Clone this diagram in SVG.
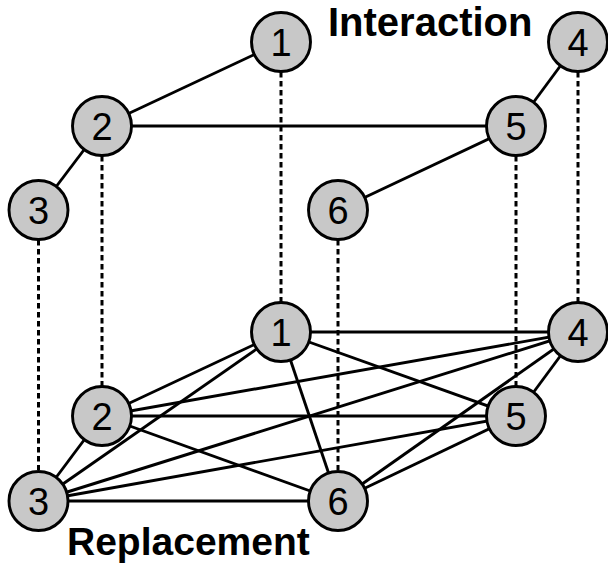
<svg xmlns="http://www.w3.org/2000/svg" width="608" height="565" viewBox="0 0 608 565">
  <style>
    .edge { stroke: #000; stroke-width: 2.9; fill: none; }
    .link { stroke: #000; stroke-width: 3; stroke-dasharray: 5.5 3.5; fill: none; }
    .node circle { fill: #c8c8c8; stroke: #000; stroke-width: 2.9; }
    .node text { font-family: "Liberation Sans", Arial, sans-serif; font-size: 38px; text-anchor: middle; fill: #000; }
    .title { font-family: "Liberation Sans", Arial, sans-serif; font-weight: bold; fill: #000; }
  </style>
  <rect width="608" height="565" fill="#fff"/>

  <!-- connectors -->
  <g id="connectors">
    <!-- vertical dashed links between layers -->
    <g id="layer-links">
      <line class="link" x1="281" y1="72" x2="281" y2="302"/>
      <line class="link" x1="102" y1="156" x2="102" y2="386"/>
      <line class="link" x1="38.5" y1="240" x2="38.5" y2="470"/>
      <line class="link" x1="578" y1="72" x2="578" y2="302"/>
      <line class="link" x1="516" y1="156" x2="516" y2="386"/>
      <line class="link" x1="338" y1="240" x2="338" y2="470"/>
    </g>
    <!-- interaction layer edges -->
    <g id="interaction-edges">
      <line class="edge" x1="281" y1="42" x2="102" y2="126"/>
      <line class="edge" x1="102" y1="126" x2="38.5" y2="210"/>
      <line class="edge" x1="102" y1="126" x2="516" y2="126"/>
      <line class="edge" x1="578" y1="42" x2="516" y2="126"/>
      <line class="edge" x1="516" y1="126" x2="338" y2="210"/>
    </g>
    <!-- replacement layer edges (complete graph) -->
    <g id="replacement-edges">
      <line class="edge" x1="281" y1="332" x2="578" y2="332"/>
      <line class="edge" x1="281" y1="332" x2="516" y2="416"/>
      <line class="edge" x1="281" y1="332" x2="338" y2="501"/>
      <line class="edge" x1="281" y1="332" x2="102" y2="416"/>
      <line class="edge" x1="281" y1="332" x2="38.5" y2="501"/>
      <line class="edge" x1="102" y1="416" x2="578" y2="332"/>
      <line class="edge" x1="102" y1="416" x2="516" y2="416"/>
      <line class="edge" x1="102" y1="416" x2="338" y2="501"/>
      <line class="edge" x1="102" y1="416" x2="38.5" y2="501"/>
      <line class="edge" x1="38.5" y1="501" x2="578" y2="332"/>
      <line class="edge" x1="38.5" y1="501" x2="516" y2="416"/>
      <line class="edge" x1="38.5" y1="501" x2="338" y2="501"/>
      <line class="edge" x1="578" y1="332" x2="516" y2="416"/>
      <line class="edge" x1="578" y1="332" x2="338" y2="501"/>
      <line class="edge" x1="516" y1="416" x2="338" y2="501"/>
    </g>
  </g>

  <!-- interaction layer nodes -->
  <g id="top-1" class="node"><circle cx="281" cy="42" r="29.5"/><text x="281" y="55.5">1</text></g>
  <g id="top-2" class="node"><circle cx="102" cy="126" r="29.5"/><text x="102" y="139.5">2</text></g>
  <g id="top-3" class="node"><circle cx="38.5" cy="210" r="29.5"/><text x="38.5" y="223.5">3</text></g>
  <g id="top-4" class="node"><circle cx="578" cy="42" r="29.5"/><text x="578" y="55.5">4</text></g>
  <g id="top-5" class="node"><circle cx="516" cy="126" r="29.5"/><text x="516" y="139.5">5</text></g>
  <g id="top-6" class="node"><circle cx="338" cy="210" r="29.5"/><text x="338" y="223.5">6</text></g>

  <!-- replacement layer nodes -->
  <g id="bottom-1" class="node"><circle cx="281" cy="332" r="29.5"/><text x="281" y="345.5">1</text></g>
  <g id="bottom-2" class="node"><circle cx="102" cy="416" r="29.5"/><text x="102" y="429.5">2</text></g>
  <g id="bottom-3" class="node"><circle cx="38.5" cy="501" r="29.5"/><text x="38.5" y="514.5">3</text></g>
  <g id="bottom-4" class="node"><circle cx="578" cy="332" r="29.5"/><text x="578" y="345.5">4</text></g>
  <g id="bottom-5" class="node"><circle cx="516" cy="416" r="29.5"/><text x="516" y="429.5">5</text></g>
  <g id="bottom-6" class="node"><circle cx="338" cy="501" r="29.5"/><text x="338" y="514.5">6</text></g>

  <!-- layer titles -->
  <text class="title" x="328" y="36" font-size="40">Interaction</text>
  <text class="title" x="67" y="555" font-size="39">Replacement</text>
</svg>
